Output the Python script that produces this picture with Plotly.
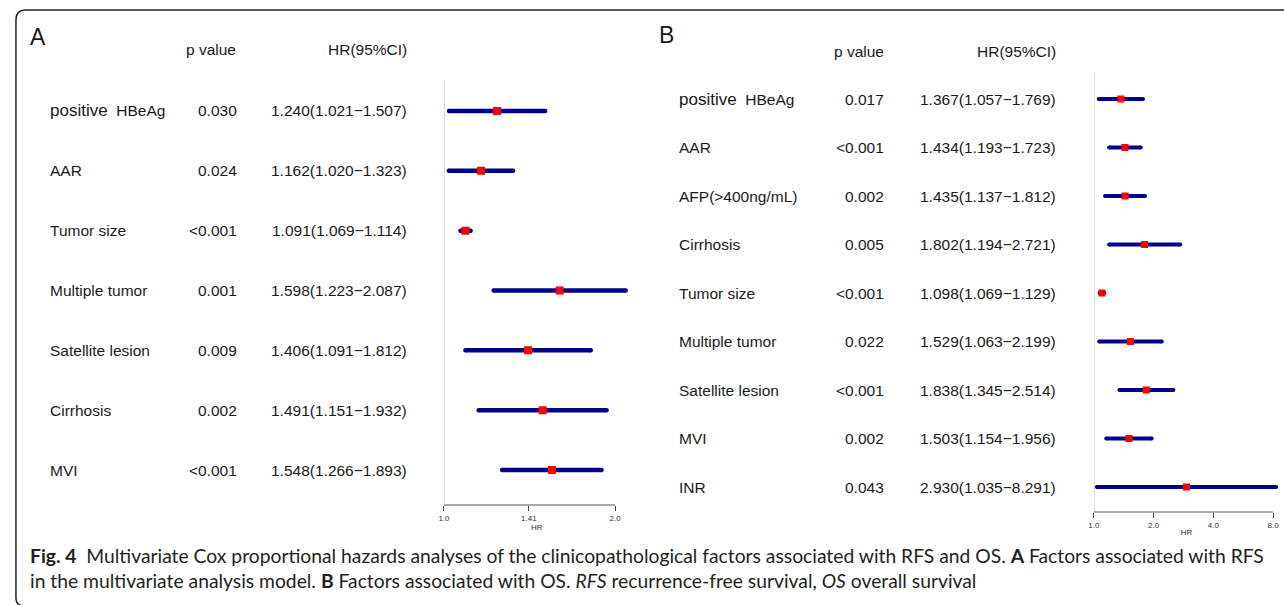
import math
import plotly.graph_objects as go

W, H = 1284, 605

# ---------------- data ----------------
A_labels = ["positive HBeAg", "AAR", "Tumor size", "Multiple tumor",
            "Satellite lesion", "Cirrhosis", "MVI"]
A_p = ["0.030", "0.024", "<0.001", "0.001", "0.009", "0.002", "<0.001"]
A_hr = [1.240, 1.162, 1.091, 1.598, 1.406, 1.491, 1.548]
A_lo = [1.021, 1.020, 1.069, 1.223, 1.091, 1.151, 1.266]
A_hi = [1.507, 1.323, 1.114, 2.087, 1.812, 1.932, 1.893]
A_ticks = [1.0, 1.41, 2.0]
A_ticktext = ["1.0", "1.41", "2.0"]

B_labels = ["positive HBeAg", "AAR", "AFP(>400ng/mL)", "Cirrhosis", "Tumor size",
            "Multiple tumor", "Satellite lesion", "MVI", "INR"]
B_p = ["0.017", "<0.001", "0.002", "0.005", "<0.001", "0.022", "<0.001", "0.002", "0.043"]
B_hr = [1.367, 1.434, 1.435, 1.802, 1.098, 1.529, 1.838, 1.503, 2.930]
B_lo = [1.057, 1.193, 1.137, 1.194, 1.069, 1.063, 1.345, 1.154, 1.035]
B_hi = [1.769, 1.723, 1.812, 2.721, 1.129, 2.199, 2.514, 1.956, 8.291]
B_ticks = [1.0, 2.0, 4.0, 8.0]
B_ticktext = ["1.0", "2.0", "4.0", "8.0"]

caption1 = ("<b>Fig. 4</b>  Multivariate Cox proportional hazards analyses of the clinicopathological "
            "factors associated with RFS and OS. <b>A</b> Factors associated with RFS")
caption2 = ("in the multivariate analysis model. <b>B</b> Factors associated with OS. "
            "<i>RFS</i> recurrence-free survival, <i>OS</i> overall survival")

# ---------------- helpers ----------------
def px(x):
    return x / W

def py(y):
    return 1 - y / H

NAVY = "#00008B"
RED = "#FF0000"
TXT = "#1a1a1a"
FONT = "Liberation Sans, Arial, sans-serif"
TS = 15.5

fig = go.Figure()

def add_forest(lo, hi, hr, xa, ya, lw, ms):
    xs, ys = [], []
    for i, (l, h) in enumerate(zip(lo, hi)):
        xs += [l, h, None]
        ys += [i, i, None]
    fig.add_trace(go.Scatter(x=xs, y=ys, mode="lines+markers", xaxis=xa, yaxis=ya,
                             line=dict(color=NAVY, width=lw),
                             marker=dict(color=NAVY, size=lw, symbol="circle"),
                             hoverinfo="skip", showlegend=False))
    fig.add_trace(go.Scatter(x=hr, y=list(range(len(hr))), mode="markers", xaxis=xa, yaxis=ya,
                             marker=dict(color=RED, size=ms, symbol="square", line=dict(width=0)),
                             showlegend=False))

add_forest(A_lo, A_hi, A_hr, "x", "y", 4.5, 8)
add_forest(B_lo, B_hi, B_hr, "x2", "y2", 4, 7)

# scale geometry
A_x1px, A_x2px = 440, 612          # pixel of HR=1 and HR=2
A_ppu = (A_x2px - A_x1px) / math.log10(2)
A_end = math.log10(2.12)
B_x1px, B_x8px = 1093, 1273
B_ppu = (B_x8px - B_x1px) / math.log10(8)
B_end = math.log10(8.6)

axis_common = dict(type="log", showgrid=False, zeroline=False, showline=False,
                   ticks="outside", ticklen=5, tickwidth=1, tickcolor="#444",
                   tickfont=dict(size=8, color="#333", family=FONT),
                   fixedrange=True)

fig.update_layout(
    xaxis=dict(domain=[px(A_x1px), px(A_x1px + A_ppu * A_end)], range=[0, A_end],
               tickvals=A_ticks, ticktext=A_ticktext, anchor="y",
               title=dict(text="HR", font=dict(size=8, color="#333", family=FONT), standoff=0),
               **axis_common),
    yaxis=dict(domain=[py(505), py(80)], range=[len(A_labels) - 1 + 0.585, -0.518],
               visible=False, fixedrange=True),
    xaxis2=dict(domain=[px(B_x1px), px(B_x1px + B_ppu * B_end)], range=[0, B_end],
                tickvals=B_ticks, ticktext=B_ticktext, anchor="y2",
                title=dict(text="HR", font=dict(size=8, color="#333", family=FONT), standoff=0),
                **axis_common),
    yaxis2=dict(domain=[py(512), py(73)], range=[len(B_labels) - 1 + 0.515, -0.536],
                visible=False, fixedrange=True),
)

shapes = []
# reference lines at HR=1 and axis baselines
for xr, yr, top in [("x", "y domain", 2.0), ("x2", "y2 domain", 8.0)]:
    shapes.append(dict(type="line", xref=xr, yref=yr, x0=1, x1=1, y0=0, y1=1,
                       line=dict(color="#cfcfcf", width=1.5), layer="below"))
    shapes.append(dict(type="line", xref=xr, yref=yr, x0=1, x1=top, y0=0, y1=0,
                       line=dict(color="#555", width=1)))

# frame with rounded corner
r = 10
frame = (f"M {px(10)},{py(598)} Q {px(10)},{py(605)} {px(17)},{py(606)} "
         f"M {px(10)},{py(598)} L {px(10)},{py(10 + r)} "
         f"Q {px(10)},{py(10)} {px(10 + r)},{py(10)} L {px(1290)},{py(10)}")
shapes.append(dict(type="path", xref="paper", yref="paper", path=frame,
                   line=dict(color="#222", width=1.5)))
fig.update_layout(shapes=shapes)

ann = []

def row_text(labels, pvals, hr, lo, hi, yref, xlab, xp, xhr):
    for i in range(len(labels)):
        lab = labels[i]
        if lab.startswith("positive "):
            lab = "<span style='font-size:17px'>positive</span>  " + lab[len("positive "):]
        ann.append(dict(x=px(xlab), y=i, xref="paper", yref=yref, text=lab,
                        xanchor="left", yanchor="middle", showarrow=False,
                        font=dict(size=TS, color=TXT, family=FONT)))
        ann.append(dict(x=px(xp), y=i, xref="paper", yref=yref, text=pvals[i],
                        xanchor="right", yanchor="middle", showarrow=False,
                        font=dict(size=TS, color=TXT, family=FONT)))
        ann.append(dict(x=px(xhr), y=i, xref="paper", yref=yref,
                        text=f"{hr[i]:.3f}({lo[i]:.3f}\u2212{hi[i]:.3f})",
                        xanchor="right", yanchor="middle", showarrow=False,
                        font=dict(size=TS, color=TXT, family=FONT)))

row_text(A_labels, A_p, A_hr, A_lo, A_hi, "y", 42, 234, 405)
row_text(B_labels, B_p, B_hr, B_lo, B_hi, "y2", 674, 884, 1057)

def paper_text(x, y, text, size, anchor="left", family=FONT, color=TXT):
    ann.append(dict(x=px(x), y=py(y), xref="paper", yref="paper", text=text,
                    xanchor=anchor, yanchor="middle", showarrow=False,
                    font=dict(size=size, color=color, family=family)))

paper_text(22, 37, "A", 23)
paper_text(179, 50, "p value", TS)
paper_text(405, 50, "HR(95%CI)", TS, anchor="right")
paper_text(654, 35, "B", 23)
paper_text(830, 51, "p value", TS)
paper_text(1057, 51, "HR(95%CI)", TS, anchor="right")

CAP_FONT = "Lato, Open Sans, sans-serif"
paper_text(22, 555, caption1, 19.3, family=CAP_FONT, color="#231f20")
paper_text(22, 580, caption2, 19.3, family=CAP_FONT, color="#231f20")

fig.update_layout(annotations=ann, width=W, height=H,
                  margin=dict(l=0, r=0, t=0, b=0),
                  paper_bgcolor="white", plot_bgcolor="white",
                  font=dict(family=FONT))

fig.write_html("out.html", config={"displayModeBar": False},
               post_script="document.body.style.margin='0px';document.body.style.overflow='hidden';")
